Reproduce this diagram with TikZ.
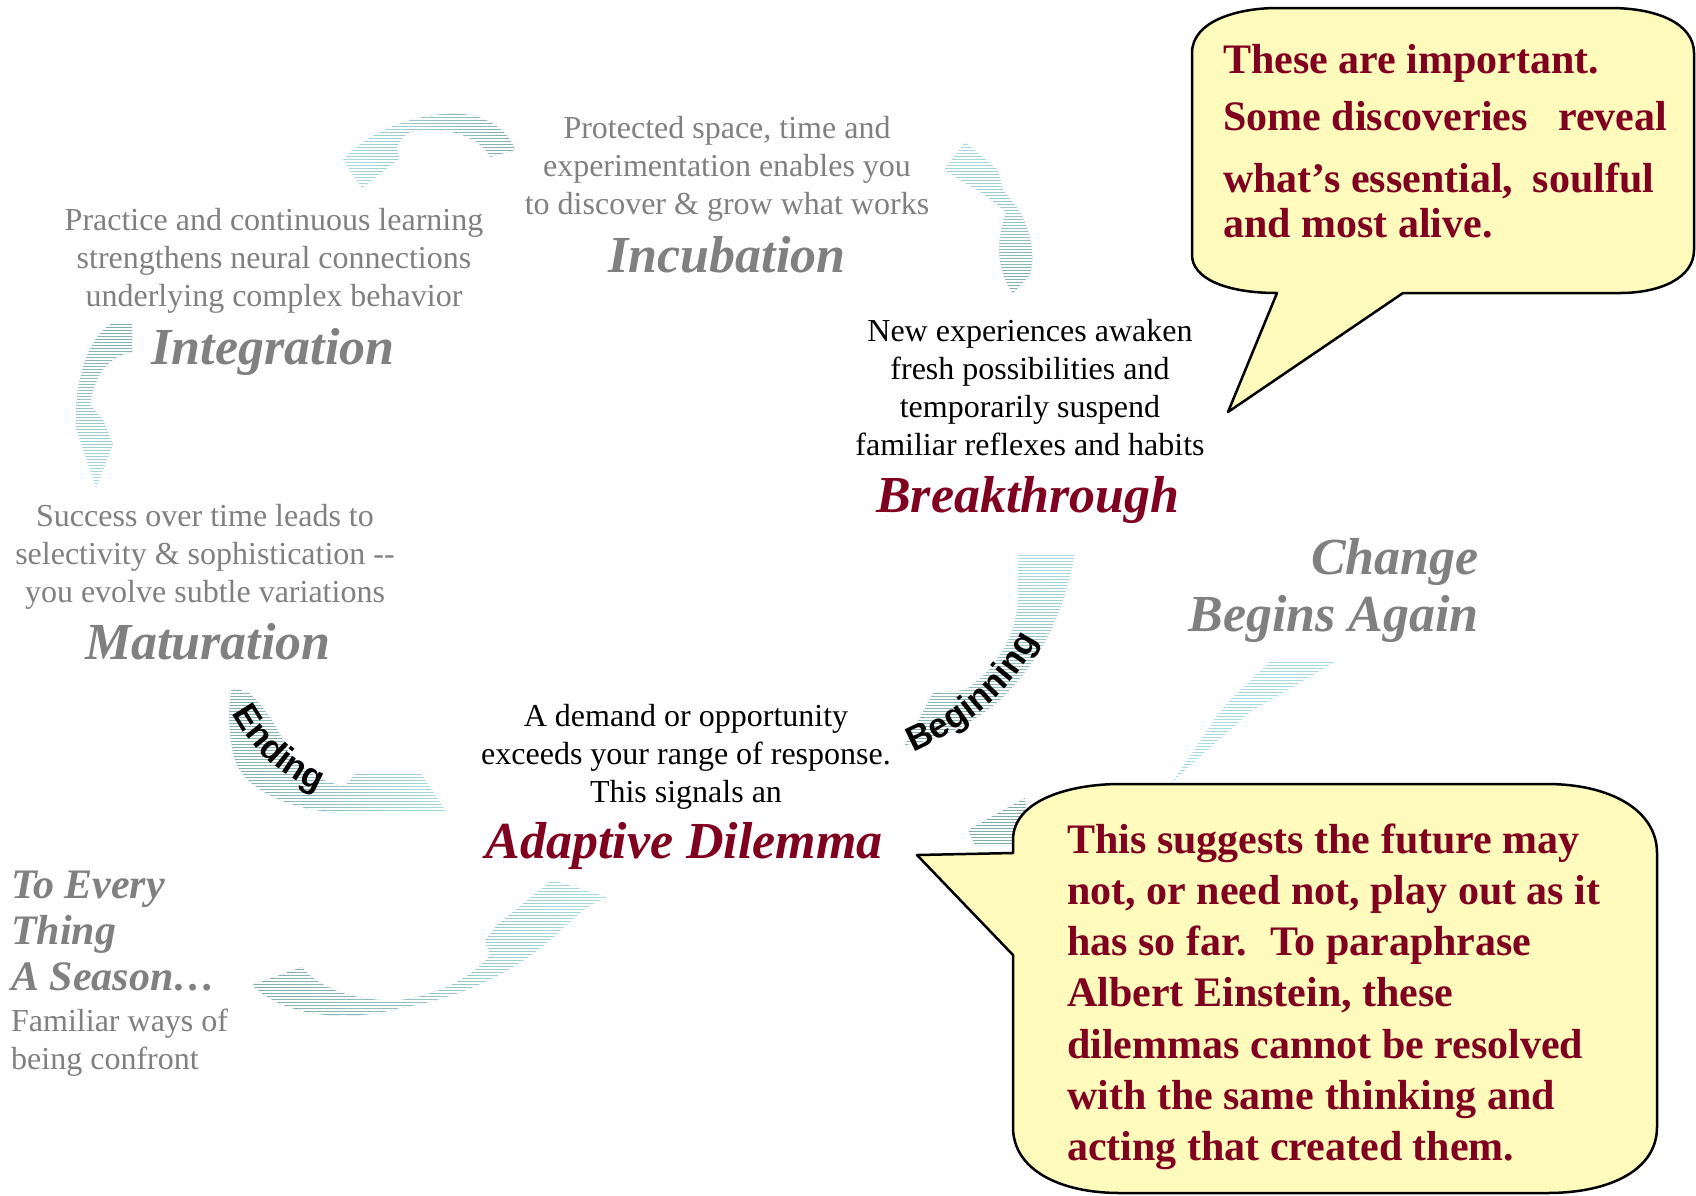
\documentclass[tikz,border=0pt]{standalone}
\usepackage{fontspec}
\setmainfont{Liberation Serif}
\newfontfamily\wordart{Liberation Sans}
\usetikzlibrary{decorations.text}
\definecolor{greytext}{RGB}{128,128,128}
\definecolor{darkred}{RGB}{128,0,32}
\definecolor{calloutfill}{RGB}{255,251,189}
\definecolor{lightcyan}{RGB}{168,220,228}
\definecolor{darkteal}{RGB}{130,172,172}
\newcommand\wordartfont{\wordart\bfseries\fontsize{35}{35}\selectfont}
\newcommand\stripedarrow[6]{%
\begin{scope}
\clip #1;
\shade[#2] (#3,#4) rectangle (#5,#6);
\pgfmathtruncatemacro\nstripes{(#6-#4)/3}
\foreach \k in {0,...,\nstripes} \draw[white,line width=1.6pt] (#3,#4+3*\k) -- (#5,#4+3*\k);
\end{scope}}
\tikzset{
 body/.style={font=\fontsize{32}{38}\selectfont, align=center, inner sep=0pt},
 title/.style={font=\fontsize{52}{60}\selectfont\bfseries\itshape, inner sep=0pt},
 season/.style={font=\fontsize{42}{46}\selectfont\bfseries\itshape, text=greytext, align=left, inner sep=0pt},
 callouttext/.style={font=\fontsize{42}{50}\selectfont\bfseries, text=darkred, inner sep=0pt, anchor=base west},
 callout/.style={draw=black, line width=2.5pt, fill=calloutfill, line join=round},
 wordlabel/.style={decorate, decoration={text along path, text align=center}},
}
\begin{document}
\begin{tikzpicture}[x=1pt,y=-1pt]
\useasboundingbox (0,0) rectangle (1696,1195);
\fill[white] (0,0) rectangle (1696,1195);

% ---- striped arrows ----
% Incubation -> Integration (top arc)
\stripedarrow{(362,188) -- (343,160) .. controls (370,128) and (430,108) .. (470,115) .. controls (495,120) and (510,135) .. (515,150) -- (490,157) .. controls (480,135) and (440,125) .. (410,132) .. controls (400,138) and (392,148) .. (400,158) -- cycle}{left color=lightcyan,right color=darkteal}{340}{110}{520}{190}
% Breakthrough -> Incubation (right of Incubation)
\stripedarrow{(965,142) -- (998,170) -- (1003,190) -- (1015,205) .. controls (1030,225) and (1036,255) .. (1030,275) -- (1013,293) .. controls (996,270) and (996,240) .. (1006,212) -- (985,195) -- (944,170) -- cycle}{top color=lightcyan,bottom color=darkteal}{940}{140}{1040}{295}
% Integration -> Maturation (left)
\stripedarrow{(132,322) -- (132,352) .. controls (110,356) and (95,372) .. (90,405) -- (103,420) -- (113,445) -- (96,488) -- (76,428) .. controls (74,390) and (85,335) .. (115,322) -- cycle}{top color=darkteal,bottom color=lightcyan}{70}{320}{135}{490}
% Maturation -> Adaptive Dilemma (Ending)
\stripedarrow{(232,688) -- (248,692) .. controls (262,705) and (275,722) .. (285,745) .. controls (297,768) and (320,782) .. (345,786) -- (357,772) -- (420,772) -- (447,813) -- (340,813) .. controls (290,810) and (245,790) .. (235,760) .. controls (228,735) and (228,705) .. (232,688) -- cycle}{left color=darkteal,right color=lightcyan}{225}{686}{450}{815}
% Season -> Adaptive Dilemma (bottom left)
\stripedarrow{(552,880) -- (607,897) .. controls (575,910) and (560,935) .. (540,948) .. controls (500,980) and (450,1000) .. (400,1008) .. controls (360,1020) and (290,1022) .. (252,985) -- (302,967) .. controls (320,990) and (360,1002) .. (400,1000) .. controls (440,995) and (475,975) .. (490,955) -- (485,940) -- (497,925) -- cycle}{left color=darkteal,right color=lightcyan}{250}{878}{610}{1022}
% Adaptive Dilemma -> Breakthrough (Beginning)
\stripedarrow{(1018,553) -- (1075,553) .. controls (1062,620) and (1040,660) .. (1000,700) .. controls (970,725) and (940,740) .. (905,745) -- (933,693) -- (965,690) .. controls (995,670) and (1015,640) .. (1018,600) -- cycle}{top color=lightcyan,bottom color=darkteal}{900}{551}{1078}{748}
% Change Begins Again
\stripedarrow{(1172,783) .. controls (1195,760) and (1225,735) .. (1250,712) -- (1338,660) -- (1272,660) -- (1230,700) -- (1218,714) .. controls (1205,735) and (1190,755) .. (1172,783) -- cycle}{left color=lightcyan,right color=lightcyan}{1170}{658}{1340}{785}
% fragment behind lower callout
\stripedarrow{(1025,798) -- (968,830) -- (975,845) -- (1030,845) -- cycle}{left color=darkteal,right color=darkteal}{965}{797}{1032}{846}

% ---- curved word labels ----
\path[wordlabel, decoration={text={|\wordartfont|Beginning}}] (913,752) .. controls (960,732) and (1010,695) .. (1038,640);
\path[wordlabel, decoration={text={|\wordartfont|Ending}}] (226,702) .. controls (248,748) and (282,780) .. (330,796);

% ---- cycle texts ----
\node[body, text=greytext] (protected) at (727,169) {Protected space, time and\\experimentation enables you\\to discover \& grow what works};
\node[title, text=greytext, anchor=base] (incubation) at (727,272) {Incubation};
\node[body, text=greytext] (practice) at (274,261) {Practice and continuous learning\\strengthens neural connections\\underlying complex behavior};
\node[title, text=greytext, anchor=base] (integration) at (273,364) {Integration};
\node[body] (newexp) at (1030,388) {New experiences awaken\\fresh possibilities and\\temporarily suspend\\familiar reflexes and habits};
\node[title, text=darkred, anchor=base] (breakthrough) at (1028,512) {Breakthrough};
\node[title, text=greytext, anchor=base east] (change) at (1479,574) {Change};
\node[title, text=greytext, anchor=base east] (begins) at (1479,631) {Begins Again};
\node[body, text=greytext] (success) at (205,557) {Success over time leads to\\selectivity \& sophistication -{}-\\you evolve subtle variations};
\node[title, text=greytext, anchor=base] (maturation) at (208,659) {Maturation};
\node[body] (demand) at (686,757) {A demand or opportunity\\exceeds your range of response.\\This signals an};
\node[title, text=darkred, anchor=base] (adaptive) at (684,858) {Adaptive Dilemma};
\node[season, anchor=west] (season) at (11,931) {To Every\\Thing\\A Season…};
\node[body, text=greytext, align=left, anchor=west] (familiar) at (11,1043) {Familiar ways of\\being confront};

% ---- callouts ----
\path[callout] (1192,53) .. controls (1192,20) and (1240,8) .. (1277,8) -- (1610,8) .. controls (1660,8) and (1694,25) .. (1694,53) -- (1694,250) .. controls (1694,278) and (1660,293) .. (1620,293) -- (1403,293) -- (1228,412) -- (1277,293) .. controls (1225,293) and (1192,278) .. (1192,255) -- cycle;
\node[callouttext] (cone1) at (1223,73) {These are important.};
\node[callouttext] (cone2) at (1223,130) {Some discoveries\hspace{20pt} reveal};
\node[callouttext] (cone3) at (1223,192) {what’s essential,\hspace{9pt} soulful};
\node[callouttext] (cone4) at (1223,237) {and most alive.};

\path[callout] (1013,840) .. controls (1013,800) and (1070,784) .. (1120,784) -- (1547,784) .. controls (1610,784) and (1657,810) .. (1657,853) -- (1657,1127) .. controls (1657,1170) and (1610,1193) .. (1547,1193) -- (1120,1193) .. controls (1060,1193) and (1013,1170) .. (1013,1127) -- (1013,955) -- (917,855) -- (1013,853) -- cycle;
\foreach \t [count=\i from 0] in {This suggests the future may, {not, or need not, play out as it}, {has so far.\hspace{10pt} To paraphrase}, {Albert Einstein, these}, dilemmas cannot be resolved, with the same thinking and, acting that created them.}
  {\node[callouttext] (ctwo\i) at (1067,853+51.3*\i) {\t};}
\end{tikzpicture}
\end{document}
